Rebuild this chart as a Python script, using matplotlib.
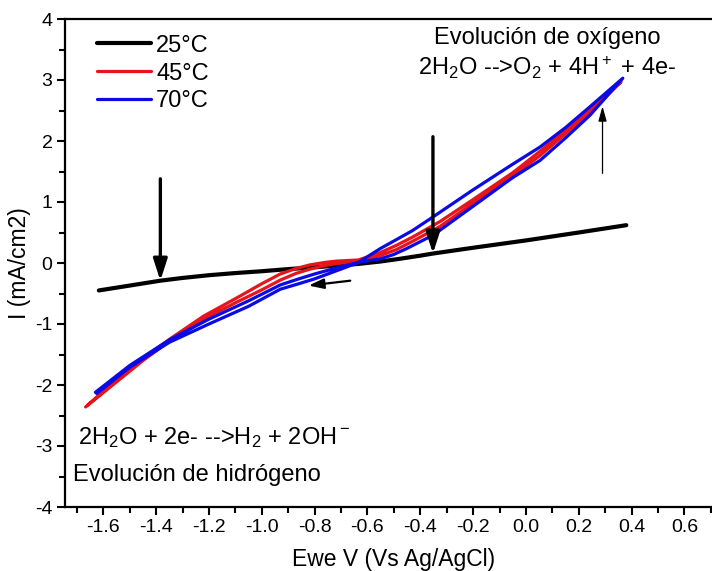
"""Cyclic voltammograms at 25, 45 and 70 °C (Ewe vs Ag/AgCl)."""

import matplotlib
matplotlib.use("Agg")
import matplotlib.pyplot as plt

plt.rcParams["font.family"] = ["Liberation Sans", "DejaVu Sans"]
plt.rcParams["mathtext.fontset"] = "custom"
plt.rcParams["mathtext.rm"] = "Liberation Sans"
plt.rcParams["mathtext.it"] = "Liberation Sans"
plt.rcParams["axes.unicode_minus"] = False

# 25 °C - nearly flat response
V_25 = [-1.617, -1.5, -1.384, -1.3, -1.2, -1.1, -1.0, -0.9, -0.817, -0.72,
        -0.634, -0.55, -0.476, -0.4, -0.352, -0.2, 0.0, 0.2, 0.38]
I_25 = [-0.45, -0.37, -0.29, -0.245, -0.20, -0.165, -0.135, -0.10, -0.075,
        -0.045, -0.015, 0.025, 0.07, 0.12, 0.155, 0.25, 0.37, 0.50, 0.62]

# 45 °C - forward then reverse sweep
V_45 = [-1.667, -1.55, -1.45, -1.346, -1.22, -1.094, -1.0, -0.93, -0.87,
        -0.817, -0.76, -0.72, -0.634, -0.552, -0.49, -0.427, -0.325, -0.2,
        -0.05, 0.053, 0.15, 0.25, 0.36,
        0.25, 0.15, 0.053, -0.05, -0.2, -0.325, -0.427, -0.49, -0.552,
        -0.634, -0.72, -0.76, -0.817, -0.87, -0.93, -1.0, -1.094, -1.22,
        -1.346, -1.45, -1.55, -1.66]
I_45 = [-2.36, -1.95, -1.60, -1.27, -0.92, -0.64, -0.44, -0.28, -0.17,
        -0.10, -0.04, -0.01, 0.03, 0.12, 0.22, 0.36, 0.60, 0.98,
        1.42, 1.76, 2.12, 2.50, 2.97,
        2.55, 2.18, 1.83, 1.48, 1.04, 0.68, 0.43, 0.29, 0.17,
        0.05, 0.03, 0.01, -0.03, -0.09, -0.18, -0.34, -0.57, -0.87,
        -1.24, -1.57, -1.92, -2.33]

# 70 °C - forward then reverse sweep
V_70 = [-1.63, -1.5, -1.35, -1.2, -1.05, -0.93, -0.86, -0.8, -0.7, -0.634,
        -0.55, -0.5, -0.45, -0.35, -0.2, -0.05, 0.053, 0.15, 0.242, 0.367,
        0.242, 0.15, 0.053, -0.05, -0.2, -0.35, -0.43, -0.5, -0.55, -0.634,
        -0.7, -0.8, -0.86, -0.93, -1.05, -1.2, -1.35, -1.5, -1.625]
I_70 = [-2.12, -1.68, -1.26, -0.92, -0.62, -0.36, -0.26, -0.18, -0.06, 0.01,
        0.07, 0.14, 0.24, 0.46, 0.93, 1.40, 1.68, 2.05, 2.42, 3.03,
        2.56, 2.22, 1.90, 1.62, 1.20, 0.76, 0.53, 0.36, 0.24, 0.01,
        -0.10, -0.26, -0.34, -0.43, -0.71, -1.00, -1.30, -1.71, -2.14]

X_TICKS = [-1.6, -1.4, -1.2, -1.0, -0.8, -0.6, -0.4, -0.2, 0.0, 0.2, 0.4, 0.6]
Y_TICKS = [-4, -3, -2, -1, 0, 1, 2, 3, 4]

fig = plt.figure(figsize=(7.12, 5.71), dpi=100)
ax = fig.add_axes([65 / 712, 1 - 507 / 571, (712 - 65) / 712, (507 - 19) / 571])

ax.plot(V_25, I_25, color="black", lw=3.0, label="25°C", solid_capstyle="round")
ax.plot(V_45, I_45, color="#e8141c", lw=2.3, label="45°C", solid_capstyle="round")
ax.plot(V_70, I_70, color="#0a0ae6", lw=2.3, label="70°C", solid_capstyle="round")

ax.set_xlim(-1.745, 0.7045)
ax.set_ylim(-4, 4)
ax.set_xticks(X_TICKS)
ax.set_xticklabels([f"{t:.1f}" for t in X_TICKS])
ax.set_xticks([t / 10 for t in range(-17, 8)], minor=True)
ax.set_yticks(Y_TICKS)
ax.set_yticks([t / 2 for t in range(-8, 9)], minor=True)
ax.tick_params(axis="both", which="major", direction="out", length=6, width=1.5,
               labelsize=14, pad=3)
ax.tick_params(axis="both", which="minor", direction="out", length=4, width=1.5)
for side in ("left", "bottom", "top"):
    ax.spines[side].set_linewidth(1.6)
ax.spines["right"].set_visible(False)

ax.set_xlabel("Ewe V (Vs Ag/AgCl)", fontsize=16.5)
ax.set_ylabel("I (mA/cm2)", fontsize=16.5)
ax.xaxis.set_label_coords(0.508, -0.084)
ax.yaxis.set_label_coords(-0.052, 0.5)

leg = ax.legend(loc="upper left", bbox_to_anchor=((97 - 65) / 647, 0.968),
                frameon=False, fontsize=17, handlelength=2.3, handletextpad=0.2,
                labelspacing=0.25, borderpad=0, borderaxespad=0)

# reaction annotations
ax.text(0.08, 3.69, "Evolución de oxígeno", fontsize=17, ha="center", va="center")
ax.text(0.08, 3.21, r"2H$_2$O -->O$_2$ + 4H$^+$ + 4e-", fontsize=17,
        ha="center", va="center")
ax.text(-1.694, -2.865, r"2H$_2$O + 2e- -->H$_2$ + 2OH$^-$", fontsize=17,
        ha="left", va="center")
ax.text(-1.713, -3.47, "Evolución de hidrógeno", fontsize=17, ha="left", va="center")

# arrows
big = dict(arrowstyle="-|>,head_length=1.3,head_width=0.42", lw=2.4,
           color="black", mutation_scale=10, shrinkA=0, shrinkB=0)
ax.annotate("", xy=(-1.384, -0.29), xytext=(-1.384, 1.38), arrowprops=big)
ax.annotate("", xy=(-0.352, 0.155), xytext=(-0.352, 2.07), arrowprops=big)
ax.annotate("", xy=(0.29, 2.57), xytext=(0.29, 1.47),
            arrowprops=dict(arrowstyle="-|>,head_length=0.9,head_width=0.25",
                            lw=0.9, color="black", mutation_scale=10,
                            shrinkA=0, shrinkB=0))
ax.annotate("", xy=(-0.823, -0.37), xytext=(-0.665, -0.29),
            arrowprops=dict(arrowstyle="-|>,head_length=0.9,head_width=0.3",
                            lw=1.6, color="black", mutation_scale=10,
                            shrinkA=0, shrinkB=0))

fig.savefig("out.png", dpi=100)
